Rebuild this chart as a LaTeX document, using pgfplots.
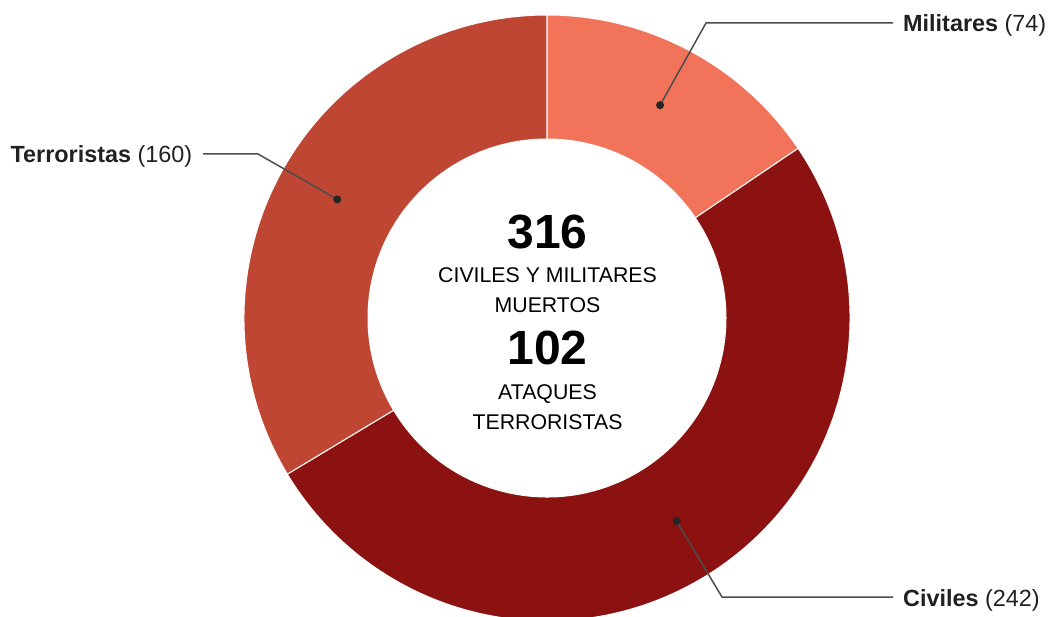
\documentclass[border=0pt]{standalone}
\usepackage{pgfplots}
\pgfplotsset{compat=1.18}
\usepackage{pgfplotstable}
\usepackage{fontspec}
\setmainfont{Liberation Sans}
\definecolor{cMil}{HTML}{F0735A}
\definecolor{cCiv}{HTML}{8B1210}
\definecolor{cTer}{HTML}{BE4632}
\definecolor{cLead}{HTML}{4D4D4D}
\definecolor{cTxt}{HTML}{212121}

\pgfplotstableread{
label value
Militares 74
Civiles 242
Terroristas 160
}\slices

\begin{document}
\begin{tikzpicture}
\pgfplotstablegetelem{0}{value}\of\slices \let\vMil\pgfplotsretval
\pgfplotstablegetelem{1}{value}\of\slices \let\vCiv\pgfplotsretval
\pgfplotstablegetelem{2}{value}\of\slices \let\vTer\pgfplotsretval
\pgfmathsetmacro{\tot}{\vMil+\vCiv+\vTer}
% angles, clockwise from top
\pgfmathsetmacro{\aA}{90}
\pgfmathsetmacro{\aB}{90-360*(\vMil/\tot)}
\pgfmathsetmacro{\aC}{\aB-360*(\vCiv/\tot)}
\pgfmathsetmacro{\aD}{\aC-360*(\vTer/\tot)}
\pgfmathsetmacro{\mMil}{(\aA+\aB)/2}
\pgfmathsetmacro{\mCiv}{(\aB+\aC)/2}
\pgfmathsetmacro{\mTer}{(\aC+\aD)/2}
\def\cx{547}\def\cy{298}\def\R{303}\def\r{179}\def\rm{241}
\begin{axis}[name=ax, x=1pt, y=1pt, disabledatascaling,
  xmin=0, xmax=1049, ymin=0, ymax=616, hide axis, clip=false,
  anchor=south west, at={(0,0)}]
% slices
\fill[cMil, draw=white, line width=1pt] (axis cs:{\cx+\R*cos(\aA)},{\cy+\R*sin(\aA)}) arc[start angle=\aA, end angle=\aB, radius=\R pt] -- (axis cs:{\cx+\r*cos(\aB)},{\cy+\r*sin(\aB)}) arc[start angle=\aB, end angle=\aA, radius=\r pt] -- cycle;
\fill[cCiv, draw=white, line width=1pt] (axis cs:{\cx+\R*cos(\aB)},{\cy+\R*sin(\aB)}) arc[start angle=\aB, end angle=\aC, radius=\R pt] -- (axis cs:{\cx+\r*cos(\aC)},{\cy+\r*sin(\aC)}) arc[start angle=\aC, end angle=\aB, radius=\r pt] -- cycle;
\fill[cTer, draw=white, line width=1pt] (axis cs:{\cx+\R*cos(\aC)},{\cy+\R*sin(\aC)}) arc[start angle=\aC, end angle=\aD, radius=\R pt] -- (axis cs:{\cx+\r*cos(\aD)},{\cy+\r*sin(\aD)}) arc[start angle=\aD, end angle=\aC, radius=\r pt] -- cycle;
% leaders
\draw[cLead, line width=1.5pt] (axis cs:{\cx+\rm*cos(\mMil)},{\cy+\rm*sin(\mMil)}) -- (axis cs:706,593) -- (axis cs:893,593);
\draw[cLead, line width=1.5pt] (axis cs:{\cx+\rm*cos(\mTer)},{\cy+\rm*sin(\mTer)}) -- (axis cs:258,462) -- (axis cs:203,462);
\draw[cLead, line width=1.5pt] (axis cs:{\cx+\rm*cos(\mCiv)},{\cy+\rm*sin(\mCiv)}) -- (axis cs:722,19) -- (axis cs:893,19);
\fill[black!85] (axis cs:{\cx+\rm*cos(\mMil)},{\cy+\rm*sin(\mMil)}) circle[radius=4pt];
\fill[black!85] (axis cs:{\cx+\rm*cos(\mTer)},{\cy+\rm*sin(\mTer)}) circle[radius=4pt];
\fill[black!85] (axis cs:{\cx+\rm*cos(\mCiv)},{\cy+\rm*sin(\mCiv)}) circle[radius=4pt];
% labels
\node[anchor=base west, inner sep=0, text=cTxt, font=\fontsize{23.4}{23.4}\selectfont] at (axis cs:903,584.3) {\textbf{Militares} (74)};
\node[anchor=base east, inner sep=0, text=cTxt, font=\fontsize{23.4}{23.4}\selectfont] at (axis cs:192.5,453.3) {\textbf{Terroristas} (160)};
\node[anchor=base west, inner sep=0, text=cTxt, font=\fontsize{23.4}{23.4}\selectfont] at (axis cs:903,9.3) {\textbf{Civiles} (242)};
% center
\node[anchor=base, inner sep=0, font=\fontsize{48}{48}\selectfont\bfseries] at (axis cs:547.5,367) {316};
\node[anchor=base, inner sep=0, font=\fontsize{21.3}{21.3}\selectfont] at (axis cs:547.5,333) {CIVILES Y MILITARES};
\node[anchor=base, inner sep=0, font=\fontsize{21.3}{21.3}\selectfont] at (axis cs:547.5,303) {MUERTOS};
\node[anchor=base, inner sep=0, font=\fontsize{48}{48}\selectfont\bfseries] at (axis cs:547.5,251) {102};
\node[anchor=base, inner sep=0, font=\fontsize{21.3}{21.3}\selectfont] at (axis cs:547.5,216) {ATAQUES};
\node[anchor=base, inner sep=0, font=\fontsize{21.3}{21.3}\selectfont] at (axis cs:547.5,186) {TERRORISTAS};
\end{axis}
\pgfresetboundingbox
\path (ax.south west) rectangle (ax.north east);
\end{tikzpicture}
\end{document}
